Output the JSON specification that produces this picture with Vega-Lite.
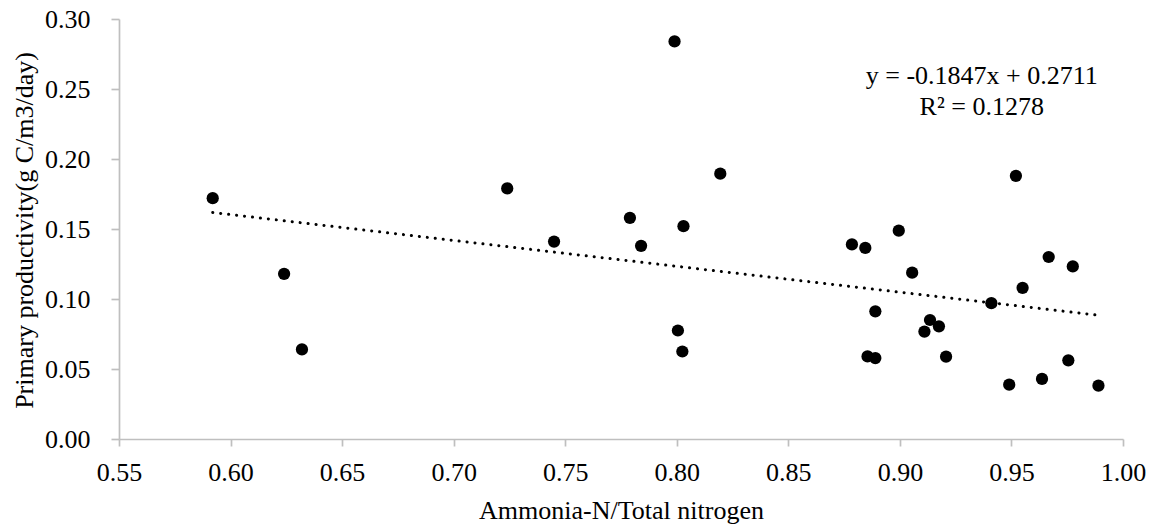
{
  "$schema": "https://vega.github.io/schema/vega-lite/v6.json",
  "width": 1004,
  "height": 420,
  "autosize": {"type": "none"},
  "padding": {"left": 119, "top": 19, "right": 30, "bottom": 87},
  "background": "white",
  "config": {
    "view": {"stroke": null},
    "font": "Liberation Serif",
    "axis": {
      "grid": false,
      "domainColor": "#bfbfbf",
      "domainWidth": 1.7,
      "tickColor": "#bfbfbf",
      "tickWidth": 1.7,
      "labelColor": "#000000",
      "titleColor": "#000000",
      "labelFont": "Liberation Serif",
      "titleFont": "Liberation Serif",
      "labelFontSize": 26,
      "titleFontSize": 26,
      "titleFontWeight": "normal"
    }
  },
  "datasets": {
    "points": [
      {"ratio": 0.592, "pp": 0.172},
      {"ratio": 0.624, "pp": 0.118},
      {"ratio": 0.632, "pp": 0.064},
      {"ratio": 0.724, "pp": 0.179},
      {"ratio": 0.745, "pp": 0.141},
      {"ratio": 0.779, "pp": 0.158},
      {"ratio": 0.784, "pp": 0.138},
      {"ratio": 0.799, "pp": 0.284},
      {"ratio": 0.8005, "pp": 0.0775},
      {"ratio": 0.8025, "pp": 0.0625},
      {"ratio": 0.803, "pp": 0.152},
      {"ratio": 0.8195, "pp": 0.1895},
      {"ratio": 0.8785, "pp": 0.139},
      {"ratio": 0.8845, "pp": 0.1365},
      {"ratio": 0.8855, "pp": 0.059},
      {"ratio": 0.889, "pp": 0.0578},
      {"ratio": 0.889, "pp": 0.0912},
      {"ratio": 0.8995, "pp": 0.1488},
      {"ratio": 0.9055, "pp": 0.1188},
      {"ratio": 0.911, "pp": 0.0767},
      {"ratio": 0.9135, "pp": 0.085},
      {"ratio": 0.9175, "pp": 0.0805},
      {"ratio": 0.9207, "pp": 0.0588},
      {"ratio": 0.941, "pp": 0.097},
      {"ratio": 0.949, "pp": 0.0388},
      {"ratio": 0.952, "pp": 0.188},
      {"ratio": 0.955, "pp": 0.108},
      {"ratio": 0.9637, "pp": 0.0429},
      {"ratio": 0.9667, "pp": 0.130},
      {"ratio": 0.9755, "pp": 0.0562},
      {"ratio": 0.9775, "pp": 0.1233},
      {"ratio": 0.989, "pp": 0.0381}
    ],
    "trend": [
      {"ratio": 0.592, "pp": 0.1618},
      {"ratio": 0.989, "pp": 0.0884}
    ],
    "labels": [
      {"ratio": 0.9367, "pp": 0.2539, "text": "y = -0.1847x + 0.2711"},
      {"ratio": 0.9367, "pp": 0.2314, "text": "R² = 0.1278"}
    ]
  },
  "layer": [
    {
      "data": {"name": "trend"},
      "mark": {"type": "line", "color": "#000000", "strokeWidth": 3, "strokeCap": "round", "strokeDash": [0.1, 7.9]},
      "encoding": {
        "x": {"field": "ratio", "type": "quantitative"},
        "y": {"field": "pp", "type": "quantitative"}
      }
    },
    {
      "data": {"name": "points"},
      "mark": {"type": "point", "shape": "circle", "filled": true, "color": "#000000", "opacity": 1, "size": 150},
      "encoding": {
        "x": {
          "field": "ratio", "type": "quantitative",
          "scale": {"domain": [0.55, 1.0], "nice": false, "zero": false},
          "axis": {
            "title": "Ammonia-N/Total nitrogen",
            "values": [0.55, 0.6, 0.65, 0.7, 0.75, 0.8, 0.85, 0.9, 0.95, 1.0],
            "format": ".2f",
            "tickSize": 7,
            "labelPadding": 34,
            "labelBaseline": "alphabetic",
            "labelDx": -3,
            "labelFlush": false,
            "labelOverlap": false,
            "titleY": 79,
            "titleBaseline": "alphabetic"
          }
        },
        "y": {
          "field": "pp", "type": "quantitative",
          "scale": {"domain": [0, 0.3], "nice": false, "zero": true},
          "axis": {
            "title": "Primary productivity(g C/m3/day)",
            "values": [0, 0.05, 0.1, 0.15, 0.2, 0.25, 0.3],
            "format": ".2f",
            "tickSize": 8,
            "labelPadding": 21,
            "labelBaseline": "middle",
            "labelFlush": false,
            "labelOverlap": false,
            "titleX": -87,
            "titleY": 211,
            "titleAngle": -90,
            "titleAlign": "center",
            "titleBaseline": "alphabetic"
          }
        }
      }
    },
    {
      "data": {"name": "labels"},
      "mark": {"type": "text", "font": "Liberation Serif", "fontSize": 26, "align": "center", "baseline": "alphabetic", "color": "#000000"},
      "encoding": {
        "x": {"field": "ratio", "type": "quantitative"},
        "y": {"field": "pp", "type": "quantitative"},
        "text": {"field": "text"}
      }
    }
  ]
}
